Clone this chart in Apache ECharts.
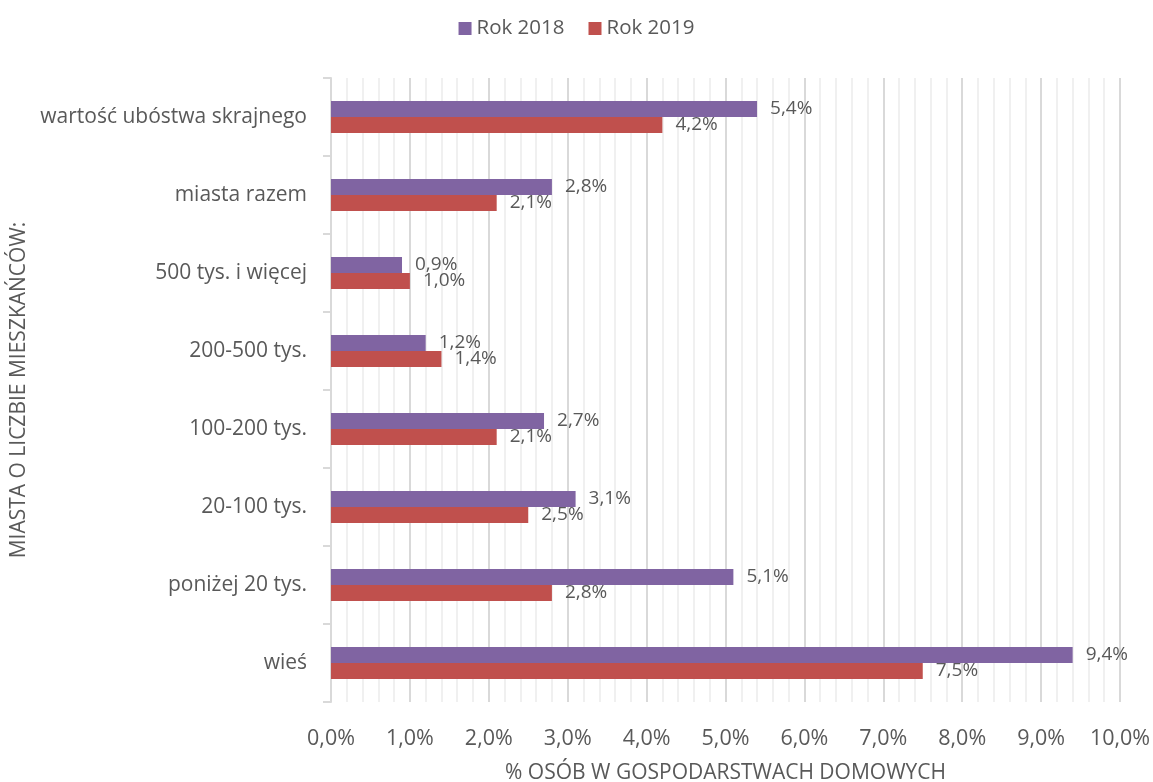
<!DOCTYPE html>
<html>
<head>
<meta charset="utf-8">
<script src="https://cdn.jsdelivr.net/npm/echarts@6/dist/echarts.min.js"></script>
<style>
html, body { margin: 0; padding: 0; background: #fff; }
#chart { width: 1153px; height: 782px; }
</style>
</head>
<body>
<div id="chart"></div>
<script>
const categories = ['wartość ubóstwa skrajnego', 'miasta razem', '500 tys. i więcej', '200-500 tys.', '100-200 tys.', '20-100 tys.', 'poniżej 20 tys.', 'wieś']
const rok2018 = [5.4, 2.8, 0.9, 1.2, 2.7, 3.1, 5.1, 9.4]
const rok2019 = [4.2, 2.1, 1.0, 1.4, 2.1, 2.5, 2.8, 7.5]

const fmt = (v) => v.toFixed(1).replace('.', ',') + '%'
const font = '"Open Sans", Lato, sans-serif'
const textColor = '#595959'

const chart = echarts.init(document.getElementById('chart'))

const barLabel = {
    show: true,
    position: 'right',
    distance: 13,
    color: textColor,
    fontSize: 19,
    fontFamily: font,
    formatter: (p) => fmt(p.value)
}

chart.setOption({
    animation: false,
    legend: {
        top: 13,
        left: 'center',
        itemWidth: 13,
        itemHeight: 13,
        itemGap: 24,
        icon: 'rect',
        textStyle: { color: textColor, fontSize: 20.5, fontFamily: font }
    },
    grid: {
        left: 331,
        right: 33,
        top: 78,
        bottom: 80,
        outerBoundsMode: 'none'
    },
    xAxis: {
        type: 'value',
        min: 0,
        max: 10,
        interval: 1,
        name: '% OSÓB W GOSPODARSTWACH DOMOWYCH',
        nameLocation: 'middle',
        nameGap: 61,
        nameTextStyle: { color: textColor, fontSize: 21, fontFamily: font },
        axisLine: { show: false },
        axisTick: { show: false },
        axisLabel: {
            color: textColor,
            fontSize: 21.5,
            fontFamily: font,
            margin: 26,
            formatter: (v) => fmt(v)
        },
        splitLine: { show: true, lineStyle: { color: '#d9d9d9', width: 2 } },
        minorTick: { show: false, splitNumber: 5 },
        minorSplitLine: { show: true, lineStyle: { color: '#f0f0f0', width: 2 } }
    },
    yAxis: {
        type: 'category',
        data: categories,
        inverse: true,
        name: 'MIASTA O LICZBIE MIESZKAŃCÓW:',
        nameLocation: 'middle',
        nameGap: 300,
        nameRotate: 90,
        nameTextStyle: { color: textColor, fontSize: 21, fontFamily: font },
        axisLine: { show: true, lineStyle: { color: '#d9d9d9', width: 2 } },
        axisTick: { show: true, length: 8, lineStyle: { color: '#d9d9d9', width: 2 } },
        axisLabel: {
            color: textColor,
            fontSize: 21,
            fontFamily: font,
            margin: 24
        }
    },
    series: [
        {
            name: 'Rok 2018',
            type: 'bar',
            data: rok2018,
            barWidth: 16,
            barGap: '0%',
            itemStyle: { color: '#8064a2' },
            label: barLabel
        },
        {
            name: 'Rok 2019',
            type: 'bar',
            data: rok2019,
            barWidth: 16,
            barGap: '0%',
            itemStyle: { color: '#c0504d' },
            label: barLabel
        }
    ]
})
</script>
</body>
</html>
